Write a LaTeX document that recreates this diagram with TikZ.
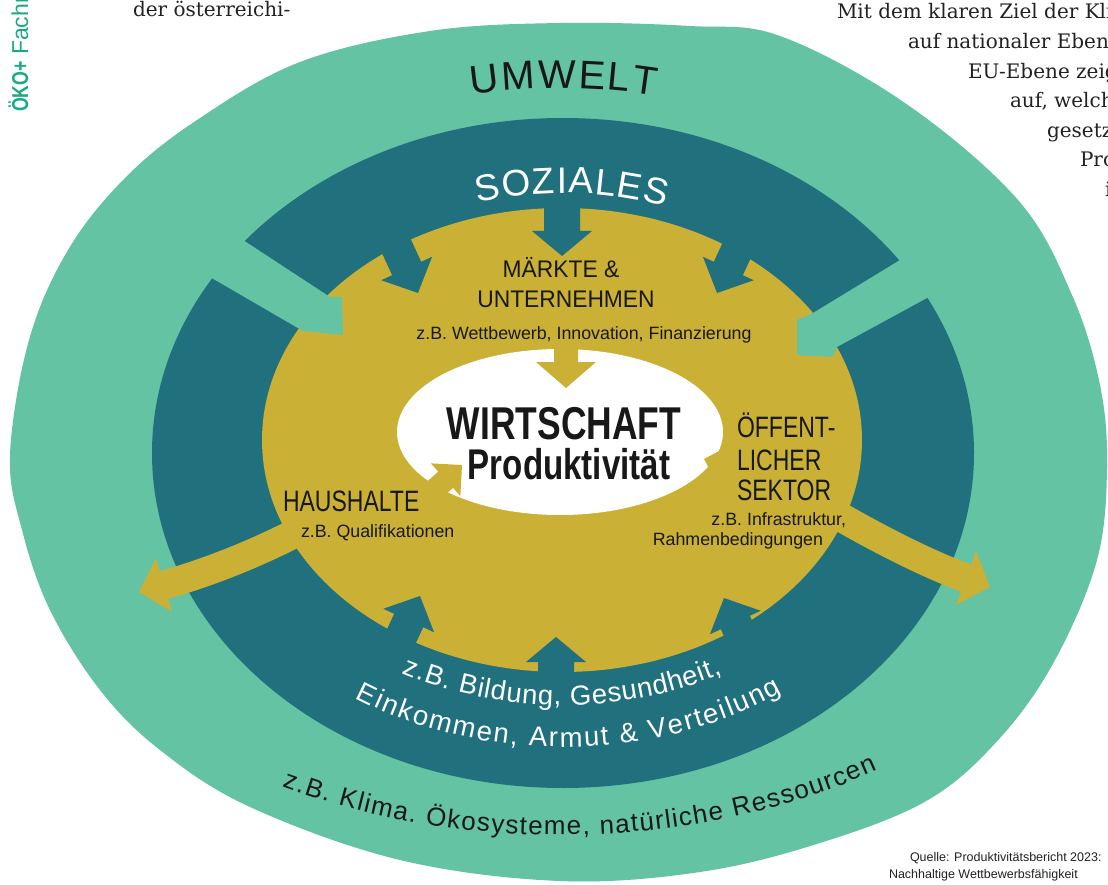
\documentclass[tikz,border=0pt]{standalone}
\usepackage{fontspec}
\usetikzlibrary{decorations.text}
\setmainfont{Liberation Sans}
\newfontfamily\bodyserif{DejaVu Serif}
\newfontfamily\plainsans{Liberation Sans}
\newfontfamily\midsans[FakeStretch=0.95]{Liberation Sans}
\newfontfamily\narrowsans[FakeStretch=0.78]{Liberation Sans}
\newfontfamily\headsans[FakeStretch=0.77]{Liberation Sans}

\definecolor{umweltgreen}{RGB}{99,195,163}
\definecolor{sozialteal}{RGB}{33,112,126}
\definecolor{wirtgold}{RGB}{202,176,53}
\definecolor{brandgreen}{RGB}{27,170,134}
\definecolor{inktext}{RGB}{24,24,24}
\definecolor{pagetext}{RGB}{34,34,34}

% block arrow: colour, tip, direction (deg), head length, head half width, shaft half width, shaft length
\newcommand{\blockarrow}[7]{%
  \fill[#1, shift={#2}, rotate=#3]
    (0,0) -- (-#4,#5) -- (-#4,#6) -- ({-#4-#7},#6) -- ({-#4-#7},-#6)
    -- (-#4,-#6) -- (-#4,-#5) -- cycle;}

\begin{document}
\begin{tikzpicture}[x=1pt, y=-1pt,
  every node/.style={inner sep=0pt, outer sep=0pt},
  dark/.style={text=inktext},
  bigcap/.style={dark, font=\narrowsans\fontsize{29.5}{30}\selectfont},
  midcap/.style={dark, font=\midsans\fontsize{24}{24}\selectfont},
  smalltext/.style={dark, font=\plainsans\fontsize{17.8}{18}\selectfont},
  centretext/.style={dark, font=\headsans\bfseries\fontsize{#1}{#1}\selectfont},
  pageserif/.style={text=pagetext, anchor=base west, font=\bodyserif\fontsize{20}{20}\selectfont},
  sourcetext/.style={text=pagetext, anchor=base west, font=\plainsans\fontsize{12.5}{13}\selectfont}]

\useasboundingbox (0,0) rectangle (1108,885);
\clip (0,0) rectangle (1108,885);
\fill[white] (0,0) rectangle (1108,885);

% ---- Umwelt (outer ring)
\fill[umweltgreen] plot[smooth cycle, tension=0.6] coordinates {
  (10,455) (29,340) (68,250) (125,178) (197,120) (300,62) (430,31) (560,23)
  (690,26) (780,36) (905,103) (1018,200) (1072,295) (1100,385) (1107,467)
  (1097,560) (1055,660) (1000,738) (928,800) (820,843) (700,872) (560,881)
  (400,860) (250,807) (160,750) (100,690) (50,610) (22,530)};

% ---- Soziales (middle ring)
\fill[sozialteal] (563,453) ellipse [x radius=411pt, y radius=335pt];

% ---- Wirtschaft area
\fill[wirtgold] (562,440) ellipse [x radius=300pt, y radius=232pt];

% outward arrows of the economy
\draw[wirtgold, line width=29pt] (305,528) .. controls (260,552) and (210,572) .. (164,585);
\fill[wirtgold] (139,592) -- (156,558) -- (172,612) -- cycle;
\draw[wirtgold, line width=29pt] (832,512) .. controls (880,540) and (930,565) .. (966,578);
\fill[wirtgold] (990,587) -- (976,551) -- (956,605) -- cycle;

% social arrows pointing into the economy
\blockarrow{sozialteal}{(562,256)}{-90}{25}{30}{18}{60}
\blockarrow{sozialteal}{(556,637)}{90}{25}{30}{18}{60}
\blockarrow{sozialteal}{(418,293)}{-65.2}{27}{28}{16}{60}
\blockarrow{sozialteal}{(717,293)}{-114.8}{27}{28}{16}{60}
\blockarrow{sozialteal}{(420,596)}{65.2}{27}{28}{16}{60}
\blockarrow{sozialteal}{(724,598)}{114.8}{27}{28}{16}{60}

% environment arrows crossing the social ring
\fill[umweltgreen] (209,219) -- (243,240) -- (330,297) -- (342,297) -- (343,335)
  -- (303,331) -- (210,277) -- (176,256) -- cycle;
\fill[umweltgreen] (934,239) -- (900,260) -- (813,313) -- (797,320) -- (797,355)
  -- (833,357) -- (837,347) -- (927,298) -- (961,277) -- cycle;

% ---- core
\fill[white] (560,432) ellipse [x radius=163pt, y radius=83pt];
\blockarrow{wirtgold}{(566,388)}{-90}{26}{30}{12}{40}
\blockarrow{wirtgold}{(462,465)}{42}{22}{22}{11}{45}
\blockarrow{wirtgold}{(704,459)}{163}{22}{22}{11}{40}

% ---- labels inside the economy
\node[midcap, anchor=base] (maerkte) at (561,278) {MÄRKTE \&};
\node[midcap, anchor=base] (unternehmen) at (566,308) {UNTERNEHMEN};
\node[smalltext, anchor=base] (maerktebsp) at (584,339) {z.B. Wettbewerb, Innovation, Finanzierung};
\node[centretext=46, anchor=base] (wirtschaft) at (564,439) {WIRTSCHAFT};
\node[centretext=43, anchor=base] (produktiv) at (569,479) {Produktivität};
\node[bigcap, anchor=base west] (oeff1) at (737,437) {ÖFFENT-};
\node[bigcap, anchor=base west] (oeff2) at (737,470) {LICHER};
\node[bigcap, anchor=base west] (oeff3) at (737,500) {SEKTOR};
\node[smalltext, anchor=base east] (oeffbsp1) at (846,525) {z.B. Infrastruktur,};
\node[smalltext, anchor=base east] (oeffbsp2) at (823,545) {Rahmenbedingungen};
\node[bigcap, anchor=base west] (haushalte) at (283,511) {HAUSHALTE};
\node[smalltext, anchor=base west] (haushaltebsp) at (301,537) {z.B. Qualifikationen};

% ---- curved ring titles
\coordinate (greenc) at (560,452);
\coordinate (tealc) at (563,453);
\path[decorate, decoration={text along path, text align=fit to path,
    text={|\plainsans\fontsize{40}{40}\selectfont\color{inktext}|UMWELT}}]
  (greenc) ++(100.8:470pt and 364pt)
  arc[start angle=100.8, end angle=78.3, x radius=470pt, y radius=364pt];
\path[decorate, decoration={text along path, text align=fit to path,
    text={|\plainsans\fontsize{37}{37}\selectfont\color{white}|SOZIALES}}]
  (tealc) ++(105.5:319pt and 260pt)
  arc[start angle=105.5, end angle=71.3, x radius=319pt, y radius=260pt];
\path[decorate, decoration={text along path, text align=fit to path,
    text={|\plainsans\fontsize{27.5}{28}\selectfont\color{white}|z.B. Bildung, Gesundheit,}}]
  (tealc) ++(240.8:330pt and 252pt)
  arc[start angle=240.8, end angle=298.8, x radius=330pt, y radius=252pt];
\path[decorate, decoration={text along path, text align=fit to path,
    text={|\plainsans\fontsize{27.5}{28}\selectfont\color{white}|Einkommen, Armut {\&} Verteilung}}]
  (tealc) ++(236.5:377pt and 294pt)
  arc[start angle=236.5, end angle=305.5, x radius=377pt, y radius=294pt];
\path[decorate, decoration={text along path, text align=fit to path,
    text={|\plainsans\fontsize{26}{26}\selectfont\color{inktext}|z.B. Klima. Ökosysteme, natürliche Ressourcen}}]
  (greenc) ++(240.8:570pt and 383pt)
  arc[start angle=240.8, end angle=303.8, x radius=570pt, y radius=383pt];

% ---- surrounding page
\node[rotate=90, anchor=base west, text=brandgreen,
      font=\fontsize{23}{23}\selectfont] (brand) at (28,112)
      {{\headsans\bfseries ÖKO+}\plainsans\ Fachr};
\node[pageserif] (col1) at (133,17) {der österreichi-};
\node[pageserif] (col2l1) at (837,19) {Mit dem klaren Ziel der Kli};
\node[pageserif] (col2l2) at (908,49) {auf nationaler Eben};
\node[pageserif] (col2l3) at (968,79) {EU-Ebene zeig};
\node[pageserif] (col2l4) at (1010,108) {auf, welch};
\node[pageserif] (col2l5) at (1047,138) {gesetz};
\node[pageserif] (col2l6) at (1080,167) {Pro};
\node[pageserif] (col2l7) at (1105,197) {i};
\node[sourcetext] (source1) at (910,861) {Quelle: Produktivitätsbericht 2023:};
\node[sourcetext] (source2) at (889,878) {Nachhaltige Wettbewerbsfähigkeit};
\end{tikzpicture}
\end{document}
